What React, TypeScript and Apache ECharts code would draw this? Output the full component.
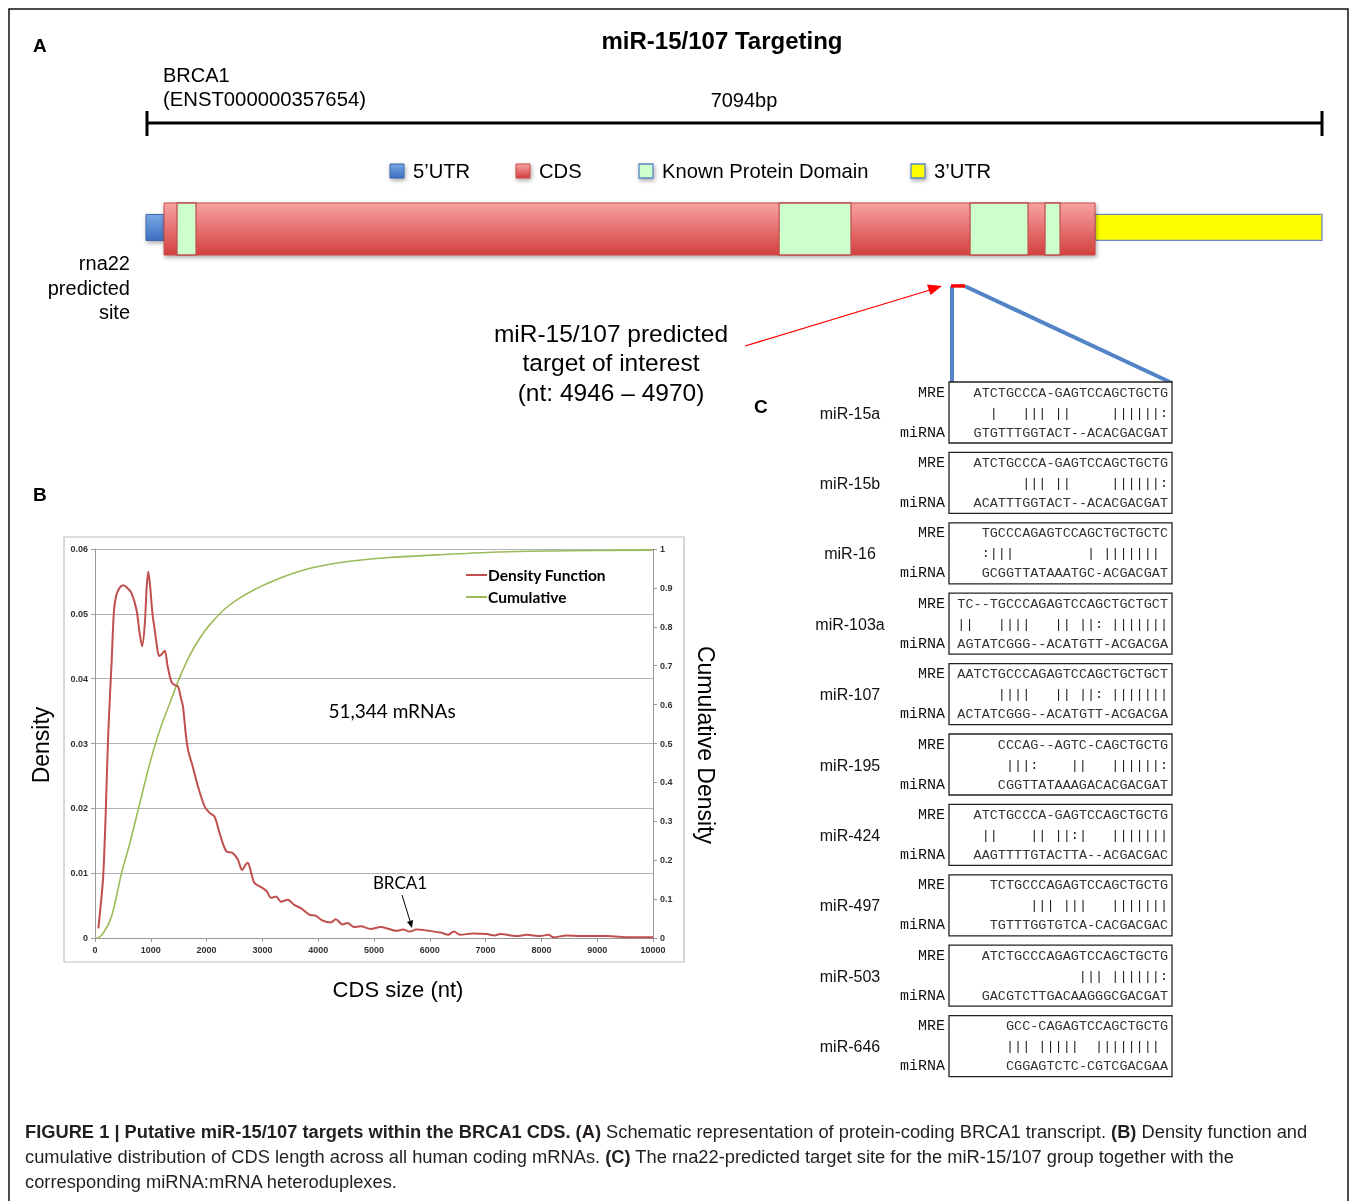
import React, { useEffect, useRef } from "react";
import * as echarts from "echarts";

// ---------- Panel B data (CDS size in nt, density / cumulative) ----------
const densityPoints: [number, number][] = [
  [60, 0.0015], [150, 0.010], [240, 0.032], [300, 0.043], [340, 0.0505], [380, 0.0528], [440, 0.054],
  [506, 0.0544], [580, 0.054], [655, 0.0532], [744, 0.0506], [800, 0.047], [845, 0.045], [893, 0.0485],
  [925, 0.054], [955, 0.0565], [985, 0.0545], [1030, 0.050], [1071, 0.0475], [1110, 0.045], [1149, 0.0435],
  [1200, 0.0438], [1250, 0.0443], [1300, 0.042], [1369, 0.0395], [1430, 0.039], [1488, 0.0388], [1540, 0.037],
  [1577, 0.0357], [1620, 0.032], [1667, 0.029], [1750, 0.0265], [1845, 0.0234], [1964, 0.0203], [2054, 0.0193],
  [2143, 0.0187], [2232, 0.0162], [2351, 0.0134], [2470, 0.0131], [2560, 0.0121], [2637, 0.0105], [2700, 0.0113],
  [2738, 0.0116], [2800, 0.010], [2857, 0.0085], [3006, 0.0077], [3080, 0.0072], [3155, 0.0062], [3244, 0.0064],
  [3333, 0.0056], [3452, 0.0059], [3571, 0.0051], [3690, 0.0046], [3839, 0.0036], [3958, 0.0034], [4077, 0.0027],
  [4226, 0.0024], [4315, 0.0029], [4435, 0.0021], [4524, 0.0023], [4643, 0.0017], [4762, 0.0018], [4940, 0.0014],
  [5119, 0.0017], [5268, 0.0014], [5400, 0.0011], [5521, 0.0013], [5641, 0.0010], [5760, 0.0013], [6000, 0.0011],
  [6210, 0.0008], [6329, 0.0005], [6431, 0.0010], [6539, 0.0005], [6778, 0.0007], [7018, 0.0006], [7168, 0.0004],
  [7257, 0.0006], [7557, 0.0003], [7737, 0.0005], [7976, 0.0003], [8126, 0.0005], [8216, 0.0001], [8455, 0.0004],
  [8695, 0.0003], [9174, 0.0003], [9593, 0.0001], [10000, 0.0001],
];
const cumulativePoints: [number, number][] = [
  [0, 0], [30, 0.0], [149, 0.013], [298, 0.056], [476, 0.167], [625, 0.244], [833, 0.364], [982, 0.449],
  [1161, 0.535], [1339, 0.603], [1518, 0.670], [1696, 0.726], [1875, 0.770], [2054, 0.805], [2351, 0.849],
  [2649, 0.879], [2946, 0.902], [3244, 0.921], [3542, 0.937], [3839, 0.950], [4137, 0.959], [4435, 0.966],
  [4732, 0.971], [5268, 0.978], [6000, 0.984], [7018, 0.991], [8096, 0.995], [10000, 0.997],
];

// ---------- Panel A data (transcript coordinates, nt) ----------
const transcriptLength = 7094;
const segmentNames = ["5’UTR", "CDS", "3’UTR"];
const segmentStart = [0, 109, 5725];
const segmentEnd = [109, 5725, 7094];
const domainStart = [187, 3819, 4971, 5423];
const domainEnd = [302, 4253, 5321, 5514];
const siteRange = [4856, 4941];

// ---------- Panel C data ----------
const mirNames = ["miR-15a", "miR-15b", "miR-16", "miR-103a", "miR-107", "miR-195", "miR-424", "miR-497", "miR-503", "miR-646"];
const mreSeqs = [
  "ATCTGCCCA-GAGTCCAGCTGCTG",
  "ATCTGCCCA-GAGTCCAGCTGCTG",
  "TGCCCAGAGTCCAGCTGCTGCTC",
  "TC--TGCCCAGAGTCCAGCTGCTGCT",
  "AATCTGCCCAGAGTCCAGCTGCTGCT",
  "CCCAG--AGTC-CAGCTGCTG",
  "ATCTGCCCA-GAGTCCAGCTGCTG",
  "TCTGCCCAGAGTCCAGCTGCTG",
  "ATCTGCCCAGAGTCCAGCTGCTG",
  "GCC-CAGAGTCCAGCTGCTG",
];
const pairLines = [
  "  |   ||| ||     ||||||:",
  "      ||| ||     ||||||:",
  ":|||         | ||||||| ",
  "||   ||||   || ||: |||||||",
  "     ||||   || ||: |||||||",
  " |||:    ||   ||||||:",
  " ||    || ||:|   |||||||",
  "     ||| |||   |||||||",
  "            ||| ||||||:",
  "||| |||||  |||||||| ",
];
const mirnaSeqs = [
  "GTGTTTGGTACT--ACACGACGAT",
  "ACATTTGGTACT--ACACGACGAT",
  "GCGGTTATAAATGC-ACGACGAT",
  "AGTATCGGG--ACATGTT-ACGACGA",
  "ACTATCGGG--ACATGTT-ACGACGA",
  "CGGTTATAAAGACACGACGAT",
  "AAGTTTTGTACTTA--ACGACGAC",
  "TGTTTGGTGTCA-CACGACGAC",
  "GACGTCTTGACAAGGGCGACGAT",
  "CGGAGTCTC-CGTCGACGAA",
];

const SANS = "Liberation Sans";
const MONO = "Liberation Mono";

function txt(text: string, x: number, y: number, o: any = {}) {
  const align = o.align || "left";
  return {
    type: "text",
    x,
    y,
    rotation: o.rotation || 0,
    z: 20,
    style: {
      text,
      x: 0,
      y: 0,
      fontSize: o.size || 20,
      fontFamily: o.family || SANS,
      fontWeight: o.weight || "normal",
      fill: o.color || "#000",
      align,
      verticalAlign: "middle",
      textAlign: align,
      textVerticalAlign: "middle",
    },
  };
}

function buildOption() {
  const redGrad = new echarts.graphic.LinearGradient(0, 0, 0, 1, [
    { offset: 0, color: "#f8a3a2" },
    { offset: 1, color: "#d2403e" },
  ]);
  const blueGrad = new echarts.graphic.LinearGradient(0, 0, 0, 1, [
    { offset: 0, color: "#79a8e6" },
    { offset: 1, color: "#3d6fc1" },
  ]);
  const shadow = { shadowBlur: 4, shadowColor: "rgba(0,0,0,0.35)", shadowOffsetX: 1, shadowOffsetY: 2 };

  const kindStyle = (k: number) => {
    if (k === 0) return { fill: blueGrad, stroke: "#3c64a8", lineWidth: 1, ...shadow };
    if (k === 1) return { fill: redGrad, stroke: "#c24b48", lineWidth: 1, ...shadow };
    if (k === 2) return { fill: "#ffff00", stroke: "#6a8cc2", lineWidth: 1.3 };
    return { fill: "#ccffcc", stroke: "#c0504d", lineWidth: 1.3 };
  };

  const transcriptItems = [
    ...segmentNames.map((n, i) => ({ name: n, value: [segmentStart[i], segmentEnd[i], i === 1 ? 1 : i === 0 ? 0 : 2] })),
    ...domainStart.map((s, i) => ({ name: "Known Protein Domain", value: [s, domainEnd[i], 3] })),
  ];

  const graphics: any[] = [];
  // figure frame
  graphics.push({ type: "rect", shape: { x: 9, y: 9, width: 1339, height: 1205 }, style: { fill: "none", stroke: "#111", lineWidth: 1.5 }, z: 1 });
  // panel letters & title
  graphics.push(txt("A", 33, 45, { size: 19, weight: "bold" }));
  graphics.push(txt("B", 33, 494, { size: 19, weight: "bold" }));
  graphics.push(txt("C", 754, 406, { size: 19, weight: "bold" }));
  graphics.push(txt("miR-15/107 Targeting", 722, 40, { size: 24, weight: "bold", align: "center" }));
  graphics.push(txt("BRCA1", 163, 75, { size: 20 }));
  graphics.push(txt("(ENST000000357654)", 163, 99, { size: 20.3 }));
  graphics.push(txt(`${transcriptLength}bp`, 744, 100, { size: 20, align: "center" }));
  // scale bar
  graphics.push({ type: "line", shape: { x1: 146, y1: 123, x2: 1322, y2: 123 }, style: { stroke: "#000", lineWidth: 3 }, z: 5 });
  graphics.push({ type: "line", shape: { x1: 147, y1: 111, x2: 147, y2: 136 }, style: { stroke: "#000", lineWidth: 3 }, z: 5 });
  graphics.push({ type: "line", shape: { x1: 1322, y1: 111, x2: 1322, y2: 136 }, style: { stroke: "#000", lineWidth: 3 }, z: 5 });
  // legend of panel A
  const legA = [
    { x: 390, label: "5’UTR", style: { fill: blueGrad, stroke: "#3c64a8", lineWidth: 1 } },
    { x: 516, label: "CDS", style: { fill: redGrad, stroke: "#c24b48", lineWidth: 1 } },
    { x: 639, label: "Known Protein Domain", style: { fill: "#ccffcc", stroke: "#5b86c2", lineWidth: 1.3 } },
    { x: 911, label: "3’UTR", style: { fill: "#ffff00", stroke: "#5b86c2", lineWidth: 1.3 } },
  ];
  legA.forEach((l) => {
    graphics.push({ type: "rect", shape: { x: l.x, y: 164, width: 14, height: 14 }, style: { ...l.style, ...shadow }, z: 5 });
    graphics.push(txt(l.label, l.x + 23, 171, { size: 20.2 }));
  });
  // rna22 label
  graphics.push(txt("rna22", 130, 263, { size: 20, align: "right" }));
  graphics.push(txt("predicted", 130, 288, { size: 20, align: "right" }));
  graphics.push(txt("site", 130, 312, { size: 20, align: "right" }));
  // target of interest text + arrow
  graphics.push(txt("miR-15/107 predicted", 611, 333, { size: 24.5, align: "center" }));
  graphics.push(txt("target of interest", 611, 362, { size: 24.5, align: "center" }));
  graphics.push(txt(`(nt: 4946 – 4970)`, 611, 392, { size: 24.5, align: "center" }));
  graphics.push({ type: "line", shape: { x1: 745, y1: 346, x2: 930, y2: 290 }, style: { stroke: "#ff0000", lineWidth: 1.3 }, z: 6 });
  graphics.push({ type: "polygon", shape: { points: [[942, 286], [930.5, 295], [927, 284.5]] }, style: { fill: "#ff0000" }, z: 6 });

  // Panel C boxes
  const boxX = 949, boxW = 223, boxH = 61, boxY0 = 382, pitch = 70.4;
  mirNames.forEach((name, i) => {
    const top = boxY0 + i * pitch;
    graphics.push({ type: "rect", shape: { x: boxX, y: top, width: boxW, height: boxH }, style: { fill: "#fff", stroke: "#222", lineWidth: 1.3 }, z: 4 });
    graphics.push(txt("MRE", 945, top + 11, { size: 15, family: MONO, align: "right", color: "#111" }));
    graphics.push(txt("miRNA", 945, top + 51, { size: 15, family: MONO, align: "right", color: "#111" }));
    graphics.push(txt(name, 850, top + 31, { size: 16, align: "center", color: "#111" }));
    graphics.push(txt(mreSeqs[i], 1168, top + 11, { size: 13.5, family: MONO, align: "right", color: "#333" }));
    graphics.push(txt(pairLines[i], 1168, top + 31, { size: 13.5, family: MONO, align: "right", color: "#222" }));
    graphics.push(txt(mirnaSeqs[i], 1168, top + 51, { size: 13.5, family: MONO, align: "right", color: "#333" }));
  });

  // Panel B frame & labels
  graphics.push({ type: "rect", shape: { x: 64, y: 537, width: 620, height: 425 }, style: { fill: "none", stroke: "#bdbdbd", lineWidth: 1.2 }, z: 1 });
  graphics.push(txt("Density", 41, 745, { size: 23, rotation: Math.PI / 2, align: "center" }));
  graphics.push(txt("Cumulative Density", 706, 745, { size: 23, rotation: -Math.PI / 2, align: "center" }));
  graphics.push(txt("CDS size (nt)", 398, 989, { size: 22, align: "center" }));
  graphics.push(txt("51,344 mRNAs", 392, 710, { size: 19, family: "Lato", align: "center" }));
  graphics.push(txt("BRCA1", 400, 882, { size: 17, family: "Lato", align: "center" }));
  graphics.push({ type: "line", shape: { x1: 402, y1: 895, x2: 410, y2: 921 }, style: { stroke: "#000", lineWidth: 1 }, z: 6 });
  graphics.push({ type: "polygon", shape: { points: [[412, 928], [413, 920], [407, 922]] }, style: { fill: "#000" }, z: 6 });

  // Caption
  const capRich = {
    b: { fontWeight: "bold", fontSize: 18.3, fontFamily: SANS, fill: "#231f20", color: "#231f20" },
    n: { fontWeight: "normal", fontSize: 18.3, fontFamily: SANS, fill: "#231f20", color: "#231f20" },
  };
  const capLines = [
    "{b|FIGURE 1 | Putative miR-15/107 targets within the BRCA1 CDS. (A)}{n| Schematic representation of protein-coding BRCA1 transcript. }{b|(B)}{n| Density function and}",
    "{n|cumulative distribution of CDS length across all human coding mRNAs. }{b|(C)}{n| The rna22-predicted target site for the miR-15/107 group together with the}",
    "{n|corresponding miRNA:mRNA heteroduplexes.}",
  ];
  capLines.forEach((t, i) => {
    graphics.push({ type: "text", x: 25, y: 1131 + i * 25, z: 20, style: { text: t, x: 0, y: 0, rich: capRich, verticalAlign: "middle", textVerticalAlign: "middle", fontSize: 18.3, fontFamily: SANS } });
  });

  const tickLabel = { fontSize: 9, fontWeight: "bold", color: "#333", fontFamily: SANS };
  const axisLine = { show: true, lineStyle: { color: "#9a9a9a", width: 1 } };
  const axisTick = { show: true, length: 4, lineStyle: { color: "#9a9a9a" } };

  return {
    animation: false,
    backgroundColor: "#fff",
    legend: {
      data: ["Density Function", "Cumulative"],
      orient: "vertical",
      left: 461,
      top: 562,
      icon: "rect",
      itemWidth: 21,
      itemHeight: 2,
      itemGap: 6,
      textStyle: { fontSize: 15.5, fontWeight: "bold", color: "#000", fontFamily: "Lato", padding: [0, 0, 0, -4] },
    },
    grid: [
      { left: 95, top: 549, width: 558, height: 389, outerBoundsMode: "none" },
      { left: 146, top: 203, width: 1176, height: 52, outerBoundsMode: "none" },
    ],
    xAxis: [
      {
        type: "value", gridIndex: 0, min: 0, max: 10000, interval: 1000,
        axisLine, axisTick, splitLine: { show: false },
        axisLabel: { ...tickLabel, margin: 7, formatter: (v: number) => String(v) },
      },
      { type: "value", gridIndex: 1, min: 0, max: transcriptLength, show: false },
    ],
    yAxis: [
      {
        type: "value", gridIndex: 0, min: 0, max: 0.06, interval: 0.01,
        axisLine, axisTick,
        splitLine: { show: true, lineStyle: { color: "#b3b3b3", width: 1 } },
        axisLabel: { ...tickLabel, margin: 7, formatter: (v: number) => (v === 0 ? "0" : v.toFixed(2)) },
      },
      {
        type: "value", gridIndex: 0, position: "right", min: 0, max: 1, interval: 0.1,
        axisLine, axisTick, splitLine: { show: false },
        axisLabel: { ...tickLabel, margin: 7, formatter: (v: number) => (v === 0 ? "0" : v === 1 ? "1" : v.toFixed(1)) },
      },
      { type: "value", gridIndex: 1, min: 0, max: 1, show: false },
    ],
    series: [
      {
        name: "Density Function", type: "line", xAxisIndex: 0, yAxisIndex: 0, data: densityPoints,
        showSymbol: false, smooth: 0.3, color: "#c0504d", lineStyle: { color: "#c0504d", width: 2 }, z: 3,
      },
      {
        name: "Cumulative", type: "line", xAxisIndex: 0, yAxisIndex: 1, data: cumulativePoints,
        showSymbol: false, smooth: 0.3, color: "#9bbb59", lineStyle: { color: "#9bbb59", width: 1.6 }, z: 2,
      },
      {
        name: "transcript", type: "custom", xAxisIndex: 1, yAxisIndex: 2, clip: false,
        data: transcriptItems,
        renderItem: (params: any, api: any) => {
          const s = api.value(0), e = api.value(1), k = api.value(2);
          const full = k === 1 || k === 3;
          const p1 = api.coord([s, full ? 1 : 0.78]);
          const p2 = api.coord([e, full ? 0 : 0.28]);
          return {
            type: "rect",
            shape: { x: p1[0], y: p1[1], width: p2[0] - p1[0], height: p2[1] - p1[1] },
            style: kindStyle(k),
            z2: k === 3 ? 3 : k === 1 ? 2 : 1,
          };
        },
      },
      {
        name: "site", type: "custom", xAxisIndex: 1, yAxisIndex: 2, clip: false,
        data: [siteRange],
        renderItem: (params: any, api: any) => {
          const a = api.coord([api.value(0), -0.6]);
          const b = api.coord([api.value(1), -0.6]);
          return {
            type: "group",
            children: [
              { type: "line", shape: { x1: a[0] + 1, y1: a[1], x2: a[0] + 1, y2: 386 }, style: { stroke: "#5284c6", lineWidth: 4 } },
              { type: "line", shape: { x1: b[0], y1: b[1], x2: 1172, y2: 383 }, style: { stroke: "#5284c6", lineWidth: 4 } },
              { type: "rect", shape: { x: a[0], y: a[1] - 2, width: b[0] - a[0], height: 3.5 }, style: { fill: "#ff0000" }, z2: 5 },
            ],
          };
        },
      },
    ],
    graphic: { elements: graphics },
  };
}

export default function App() {
  const ref = useRef<HTMLDivElement>(null);
  useEffect(() => {
    document.body.style.margin = "0";
    if (!ref.current) return;
    const chart = echarts.init(ref.current, undefined, { renderer: "svg" });
    chart.setOption(buildOption() as any);
    return () => chart.dispose();
  }, []);
  return <div ref={ref} style={{ width: 1357, height: 1201, background: "#fff", opacity: 0.999 }} />;
}
